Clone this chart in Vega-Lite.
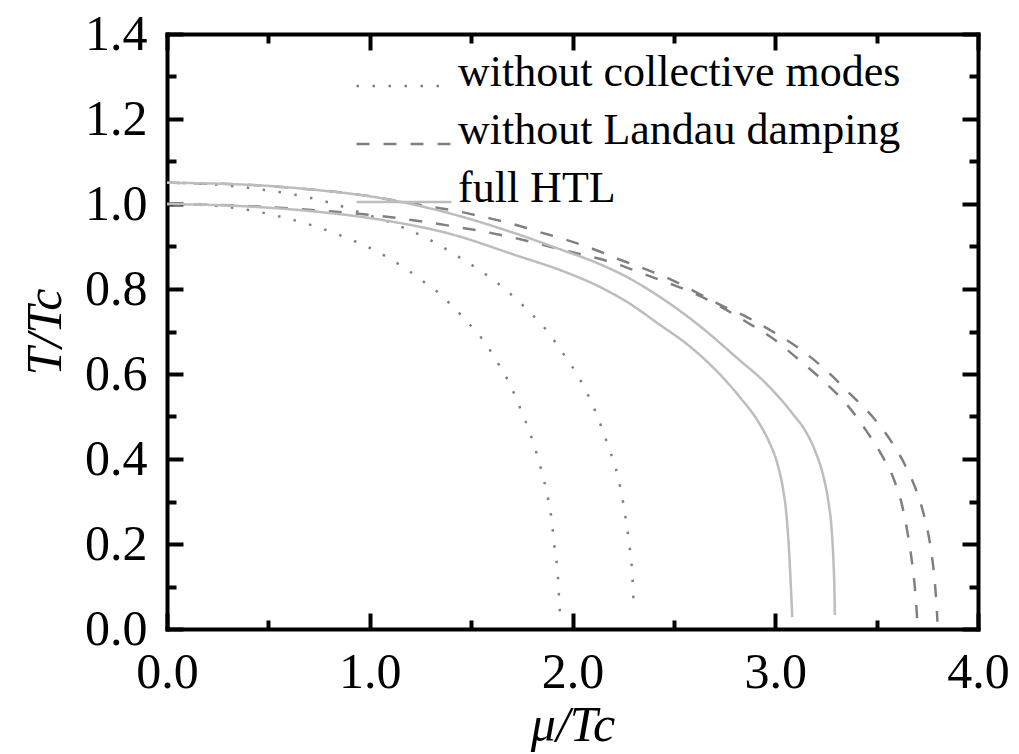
{
  "$schema": "https://vega.github.io/schema/vega-lite/v6.json",
  "width": 811,
  "height": 595,
  "autosize": {"type": "none"},
  "padding": {"left": 167, "top": 34, "right": 41, "bottom": 125},
  "background": "white",
  "config": {
    "view": {"stroke": null},
    "font": "Liberation Serif",
    "axis": {"grid": false, "domainColor": "black", "tickColor": "black", "labelColor": "black", "titleColor": "black", "domainWidth": 4, "domainCap": "square", "tickWidth": 4},
    "legend": {"rowPadding": 0, "clipHeight": 46}
  },
  "data": {
    "values": [
      {"c": "dotA", "s": "without collective modes", "i": 0, "x": 0, "y": 1.0},
      {"c": "dotA", "s": "without collective modes", "i": 1, "x": 0.2, "y": 0.997},
      {"c": "dotA", "s": "without collective modes", "i": 2, "x": 0.401, "y": 0.986},
      {"c": "dotA", "s": "without collective modes", "i": 3, "x": 0.56, "y": 0.97},
      {"c": "dotA", "s": "without collective modes", "i": 4, "x": 0.721, "y": 0.949},
      {"c": "dotA", "s": "without collective modes", "i": 5, "x": 0.877, "y": 0.922},
      {"c": "dotA", "s": "without collective modes", "i": 6, "x": 1.036, "y": 0.888},
      {"c": "dotA", "s": "without collective modes", "i": 7, "x": 1.192, "y": 0.843},
      {"c": "dotA", "s": "without collective modes", "i": 8, "x": 1.266, "y": 0.817},
      {"c": "dotA", "s": "without collective modes", "i": 9, "x": 1.332, "y": 0.794},
      {"c": "dotA", "s": "without collective modes", "i": 10, "x": 1.402, "y": 0.762},
      {"c": "dotA", "s": "without collective modes", "i": 11, "x": 1.456, "y": 0.736},
      {"c": "dotA", "s": "without collective modes", "i": 12, "x": 1.512, "y": 0.706},
      {"c": "dotA", "s": "without collective modes", "i": 13, "x": 1.562, "y": 0.678},
      {"c": "dotA", "s": "without collective modes", "i": 14, "x": 1.608, "y": 0.645},
      {"c": "dotA", "s": "without collective modes", "i": 15, "x": 1.649, "y": 0.612},
      {"c": "dotA", "s": "without collective modes", "i": 16, "x": 1.688, "y": 0.579},
      {"c": "dotA", "s": "without collective modes", "i": 17, "x": 1.739, "y": 0.523},
      {"c": "dotA", "s": "without collective modes", "i": 18, "x": 1.796, "y": 0.453},
      {"c": "dotA", "s": "without collective modes", "i": 19, "x": 1.837, "y": 0.39},
      {"c": "dotA", "s": "without collective modes", "i": 20, "x": 1.87, "y": 0.327},
      {"c": "dotA", "s": "without collective modes", "i": 21, "x": 1.895, "y": 0.264},
      {"c": "dotA", "s": "without collective modes", "i": 22, "x": 1.911, "y": 0.194},
      {"c": "dotA", "s": "without collective modes", "i": 23, "x": 1.928, "y": 0.123},
      {"c": "dotA", "s": "without collective modes", "i": 24, "x": 1.936, "y": 0.052},
      {"c": "dotA", "s": "without collective modes", "i": 25, "x": 1.938, "y": 0.035},

      {"c": "dotB", "s": "without collective modes", "i": 0, "x": 0, "y": 1.05},
      {"c": "dotB", "s": "without collective modes", "i": 1, "x": 0.2, "y": 1.047},
      {"c": "dotB", "s": "without collective modes", "i": 2, "x": 0.483, "y": 1.033},
      {"c": "dotB", "s": "without collective modes", "i": 3, "x": 0.639, "y": 1.021},
      {"c": "dotB", "s": "without collective modes", "i": 4, "x": 0.803, "y": 1.003},
      {"c": "dotB", "s": "without collective modes", "i": 5, "x": 0.96, "y": 0.979},
      {"c": "dotB", "s": "without collective modes", "i": 6, "x": 1.115, "y": 0.954},
      {"c": "dotB", "s": "without collective modes", "i": 7, "x": 1.271, "y": 0.922},
      {"c": "dotB", "s": "without collective modes", "i": 8, "x": 1.427, "y": 0.879},
      {"c": "dotB", "s": "without collective modes", "i": 9, "x": 1.591, "y": 0.828},
      {"c": "dotB", "s": "without collective modes", "i": 10, "x": 1.668, "y": 0.799},
      {"c": "dotB", "s": "without collective modes", "i": 11, "x": 1.739, "y": 0.769},
      {"c": "dotB", "s": "without collective modes", "i": 12, "x": 1.813, "y": 0.734},
      {"c": "dotB", "s": "without collective modes", "i": 13, "x": 1.882, "y": 0.697},
      {"c": "dotB", "s": "without collective modes", "i": 14, "x": 1.941, "y": 0.657},
      {"c": "dotB", "s": "without collective modes", "i": 15, "x": 1.994, "y": 0.621},
      {"c": "dotB", "s": "without collective modes", "i": 16, "x": 2.043, "y": 0.582},
      {"c": "dotB", "s": "without collective modes", "i": 17, "x": 2.117, "y": 0.507},
      {"c": "dotB", "s": "without collective modes", "i": 18, "x": 2.174, "y": 0.433},
      {"c": "dotB", "s": "without collective modes", "i": 19, "x": 2.224, "y": 0.358},
      {"c": "dotB", "s": "without collective modes", "i": 20, "x": 2.256, "y": 0.28},
      {"c": "dotB", "s": "without collective modes", "i": 21, "x": 2.277, "y": 0.209},
      {"c": "dotB", "s": "without collective modes", "i": 22, "x": 2.294, "y": 0.135},
      {"c": "dotB", "s": "without collective modes", "i": 23, "x": 2.302, "y": 0.06},
      {"c": "dotB", "s": "without collective modes", "i": 24, "x": 2.304, "y": 0.045},

      {"c": "dashA", "s": "without Landau damping", "i": 0, "x": 0, "y": 1.0},
      {"c": "dashA", "s": "without Landau damping", "i": 1, "x": 0.409, "y": 0.995},
      {"c": "dashA", "s": "without Landau damping", "i": 2, "x": 0.737, "y": 0.985},
      {"c": "dashA", "s": "without Landau damping", "i": 3, "x": 0.901, "y": 0.979},
      {"c": "dashA", "s": "without Landau damping", "i": 4, "x": 1.049, "y": 0.972},
      {"c": "dashA", "s": "without Landau damping", "i": 5, "x": 1.181, "y": 0.964},
      {"c": "dashA", "s": "without Landau damping", "i": 6, "x": 1.312, "y": 0.955},
      {"c": "dashA", "s": "without Landau damping", "i": 7, "x": 1.443, "y": 0.945},
      {"c": "dashA", "s": "without Landau damping", "i": 8, "x": 1.575, "y": 0.934},
      {"c": "dashA", "s": "without Landau damping", "i": 9, "x": 1.698, "y": 0.922},
      {"c": "dashA", "s": "without Landau damping", "i": 10, "x": 1.829, "y": 0.907},
      {"c": "dashA", "s": "without Landau damping", "i": 11, "x": 1.961, "y": 0.891},
      {"c": "dashA", "s": "without Landau damping", "i": 12, "x": 2.092, "y": 0.876},
      {"c": "dashA", "s": "without Landau damping", "i": 13, "x": 2.218, "y": 0.859},
      {"c": "dashA", "s": "without Landau damping", "i": 14, "x": 2.347, "y": 0.836},
      {"c": "dashA", "s": "without Landau damping", "i": 15, "x": 2.478, "y": 0.813},
      {"c": "dashA", "s": "without Landau damping", "i": 16, "x": 2.604, "y": 0.789},
      {"c": "dashA", "s": "without Landau damping", "i": 17, "x": 2.732, "y": 0.758},
      {"c": "dashA", "s": "without Landau damping", "i": 18, "x": 2.856, "y": 0.723},
      {"c": "dashA", "s": "without Landau damping", "i": 19, "x": 2.987, "y": 0.684},
      {"c": "dashA", "s": "without Landau damping", "i": 20, "x": 3.118, "y": 0.633},
      {"c": "dashA", "s": "without Landau damping", "i": 21, "x": 3.25, "y": 0.578},
      {"c": "dashA", "s": "without Landau damping", "i": 22, "x": 3.348, "y": 0.531},
      {"c": "dashA", "s": "without Landau damping", "i": 23, "x": 3.447, "y": 0.468},
      {"c": "dashA", "s": "without Landau damping", "i": 24, "x": 3.529, "y": 0.406},
      {"c": "dashA", "s": "without Landau damping", "i": 25, "x": 3.586, "y": 0.351},
      {"c": "dashA", "s": "without Landau damping", "i": 26, "x": 3.627, "y": 0.288},
      {"c": "dashA", "s": "without Landau damping", "i": 27, "x": 3.654, "y": 0.222},
      {"c": "dashA", "s": "without Landau damping", "i": 28, "x": 3.675, "y": 0.155},
      {"c": "dashA", "s": "without Landau damping", "i": 29, "x": 3.691, "y": 0.084},
      {"c": "dashA", "s": "without Landau damping", "i": 30, "x": 3.701, "y": 0.017},

      {"c": "dashB", "s": "without Landau damping", "i": 0, "x": 0, "y": 1.05},
      {"c": "dashB", "s": "without Landau damping", "i": 1, "x": 0.409, "y": 1.045},
      {"c": "dashB", "s": "without Landau damping", "i": 2, "x": 0.737, "y": 1.033},
      {"c": "dashB", "s": "without Landau damping", "i": 3, "x": 0.901, "y": 1.025},
      {"c": "dashB", "s": "without Landau damping", "i": 4, "x": 1.066, "y": 1.013},
      {"c": "dashB", "s": "without Landau damping", "i": 5, "x": 1.296, "y": 0.994},
      {"c": "dashB", "s": "without Landau damping", "i": 6, "x": 1.443, "y": 0.982},
      {"c": "dashB", "s": "without Landau damping", "i": 7, "x": 1.575, "y": 0.968},
      {"c": "dashB", "s": "without Landau damping", "i": 8, "x": 1.698, "y": 0.954},
      {"c": "dashB", "s": "without Landau damping", "i": 9, "x": 1.829, "y": 0.935},
      {"c": "dashB", "s": "without Landau damping", "i": 10, "x": 1.961, "y": 0.917},
      {"c": "dashB", "s": "without Landau damping", "i": 11, "x": 2.092, "y": 0.896},
      {"c": "dashB", "s": "without Landau damping", "i": 12, "x": 2.218, "y": 0.872},
      {"c": "dashB", "s": "without Landau damping", "i": 13, "x": 2.347, "y": 0.849},
      {"c": "dashB", "s": "without Landau damping", "i": 14, "x": 2.478, "y": 0.824},
      {"c": "dashB", "s": "without Landau damping", "i": 15, "x": 2.604, "y": 0.794},
      {"c": "dashB", "s": "without Landau damping", "i": 16, "x": 2.732, "y": 0.762},
      {"c": "dashB", "s": "without Landau damping", "i": 17, "x": 2.856, "y": 0.735},
      {"c": "dashB", "s": "without Landau damping", "i": 18, "x": 2.987, "y": 0.7},
      {"c": "dashB", "s": "without Landau damping", "i": 19, "x": 3.118, "y": 0.66},
      {"c": "dashB", "s": "without Landau damping", "i": 20, "x": 3.25, "y": 0.609},
      {"c": "dashB", "s": "without Landau damping", "i": 21, "x": 3.365, "y": 0.555},
      {"c": "dashB", "s": "without Landau damping", "i": 22, "x": 3.479, "y": 0.5},
      {"c": "dashB", "s": "without Landau damping", "i": 23, "x": 3.578, "y": 0.437},
      {"c": "dashB", "s": "without Landau damping", "i": 24, "x": 3.644, "y": 0.382},
      {"c": "dashB", "s": "without Landau damping", "i": 25, "x": 3.7, "y": 0.32},
      {"c": "dashB", "s": "without Landau damping", "i": 26, "x": 3.74, "y": 0.255},
      {"c": "dashB", "s": "without Landau damping", "i": 27, "x": 3.767, "y": 0.19},
      {"c": "dashB", "s": "without Landau damping", "i": 28, "x": 3.785, "y": 0.12},
      {"c": "dashB", "s": "without Landau damping", "i": 29, "x": 3.795, "y": 0.06},
      {"c": "dashB", "s": "without Landau damping", "i": 30, "x": 3.8, "y": 0.017},

      {"c": "solA", "s": "full HTL", "i": 0, "x": 0, "y": 1.0},
      {"c": "solA", "s": "full HTL", "i": 1, "x": 0.409, "y": 0.994},
      {"c": "solA", "s": "full HTL", "i": 2, "x": 0.737, "y": 0.982},
      {"c": "solA", "s": "full HTL", "i": 3, "x": 1.066, "y": 0.962},
      {"c": "solA", "s": "full HTL", "i": 4, "x": 1.394, "y": 0.93},
      {"c": "solA", "s": "full HTL", "i": 5, "x": 1.723, "y": 0.879},
      {"c": "solA", "s": "full HTL", "i": 6, "x": 1.953, "y": 0.842},
      {"c": "solA", "s": "full HTL", "i": 7, "x": 2.117, "y": 0.809},
      {"c": "solA", "s": "full HTL", "i": 8, "x": 2.281, "y": 0.766},
      {"c": "solA", "s": "full HTL", "i": 9, "x": 2.43, "y": 0.716},
      {"c": "solA", "s": "full HTL", "i": 10, "x": 2.56, "y": 0.672},
      {"c": "solA", "s": "full HTL", "i": 11, "x": 2.69, "y": 0.617},
      {"c": "solA", "s": "full HTL", "i": 12, "x": 2.823, "y": 0.547},
      {"c": "solA", "s": "full HTL", "i": 13, "x": 2.921, "y": 0.484},
      {"c": "solA", "s": "full HTL", "i": 14, "x": 2.97, "y": 0.44},
      {"c": "solA", "s": "full HTL", "i": 15, "x": 3.01, "y": 0.39},
      {"c": "solA", "s": "full HTL", "i": 16, "x": 3.038, "y": 0.33},
      {"c": "solA", "s": "full HTL", "i": 17, "x": 3.055, "y": 0.27},
      {"c": "solA", "s": "full HTL", "i": 18, "x": 3.066, "y": 0.2},
      {"c": "solA", "s": "full HTL", "i": 19, "x": 3.074, "y": 0.13},
      {"c": "solA", "s": "full HTL", "i": 20, "x": 3.08, "y": 0.07},
      {"c": "solA", "s": "full HTL", "i": 21, "x": 3.084, "y": 0.028},

      {"c": "solB", "s": "full HTL", "i": 0, "x": 0, "y": 1.05},
      {"c": "solB", "s": "full HTL", "i": 1, "x": 0.409, "y": 1.045},
      {"c": "solB", "s": "full HTL", "i": 2, "x": 0.737, "y": 1.033},
      {"c": "solB", "s": "full HTL", "i": 3, "x": 1.066, "y": 1.013},
      {"c": "solB", "s": "full HTL", "i": 4, "x": 1.394, "y": 0.978},
      {"c": "solB", "s": "full HTL", "i": 5, "x": 1.723, "y": 0.93},
      {"c": "solB", "s": "full HTL", "i": 6, "x": 1.953, "y": 0.891},
      {"c": "solB", "s": "full HTL", "i": 7, "x": 2.117, "y": 0.862},
      {"c": "solB", "s": "full HTL", "i": 8, "x": 2.281, "y": 0.825},
      {"c": "solB", "s": "full HTL", "i": 9, "x": 2.429, "y": 0.782},
      {"c": "solB", "s": "full HTL", "i": 10, "x": 2.609, "y": 0.72},
      {"c": "solB", "s": "full HTL", "i": 11, "x": 2.823, "y": 0.633},
      {"c": "solB", "s": "full HTL", "i": 12, "x": 2.954, "y": 0.578},
      {"c": "solB", "s": "full HTL", "i": 13, "x": 3.085, "y": 0.507},
      {"c": "solB", "s": "full HTL", "i": 14, "x": 3.15, "y": 0.465},
      {"c": "solB", "s": "full HTL", "i": 15, "x": 3.2, "y": 0.415},
      {"c": "solB", "s": "full HTL", "i": 16, "x": 3.237, "y": 0.36},
      {"c": "solB", "s": "full HTL", "i": 17, "x": 3.262, "y": 0.3},
      {"c": "solB", "s": "full HTL", "i": 18, "x": 3.278, "y": 0.235},
      {"c": "solB", "s": "full HTL", "i": 19, "x": 3.287, "y": 0.16},
      {"c": "solB", "s": "full HTL", "i": 20, "x": 3.292, "y": 0.09},
      {"c": "solB", "s": "full HTL", "i": 21, "x": 3.294, "y": 0.033}
    ]
  },
  "resolve": {"axis": {"x": "independent", "y": "independent"}},
  "layer": [
    {
      "mark": {"type": "line", "strokeWidth": 2.5, "strokeCap": "butt", "interpolate": "monotone", "clip": true},
      "encoding": {
        "x": {"field": "x", "type": "quantitative", "scale": {"domain": [0, 4], "nice": false, "zero": false},
          "axis": {"orient": "bottom", "values": [0, 0.5, 1, 1.5, 2, 2.5, 3, 3.5, 4], "labels": false, "title": null,
            "tickSize": {"condition": {"test": "round(datum.value*2) % 2 == 0", "value": -16}, "value": -9}}},
        "y": {"field": "y", "type": "quantitative", "scale": {"domain": [0, 1.4], "nice": false, "zero": false},
          "axis": {"orient": "left", "values": [0, 0.1, 0.2, 0.3, 0.4, 0.5, 0.6, 0.7, 0.8, 0.9, 1.0, 1.1, 1.2, 1.3, 1.4], "labels": false, "title": null,
            "tickSize": {"condition": {"test": "round(datum.value*10) % 2 == 0", "value": -16}, "value": -9}}},
        "detail": {"field": "c"},
        "order": {"field": "i", "type": "quantitative"},
        "color": {"field": "s", "type": "nominal",
          "scale": {"domain": ["without collective modes", "without Landau damping", "full HTL"], "range": ["#808080", "#808080", "#bdbdbd"]},
          "legend": {"orient": "none", "legendX": 188, "legendY": 29, "title": null, "padding": 0,
            "labelFont": "Liberation Serif", "labelFontSize": 44, "labelColor": "black", "labelLimit": 0, "labelOffset": 5, "labelBaseline": "alphabetic",
            "symbolType": "stroke", "symbolSize": 9025, "symbolStrokeWidth": 2.5}},
        "strokeDash": {"field": "s", "type": "nominal",
          "scale": {"domain": ["without collective modes", "without Landau damping", "full HTL"], "range": [[2.5, 13.5], [13, 14], [1, 0]]},
          "legend": {"orient": "none", "legendX": 188, "legendY": 29, "title": null, "padding": 0,
            "labelFont": "Liberation Serif", "labelFontSize": 44, "labelColor": "black", "labelLimit": 0, "labelOffset": 5, "labelBaseline": "alphabetic",
            "symbolType": "stroke", "symbolSize": 9025, "symbolStrokeWidth": 2.5}}
      }
    },
    {
      "mark": {"type": "line", "opacity": 0},
      "encoding": {
        "x": {"field": "x", "type": "quantitative",
          "axis": {"orient": "top", "values": [0, 0.5, 1, 1.5, 2, 2.5, 3, 3.5, 4], "labels": false, "title": null,
            "tickSize": {"condition": {"test": "round(datum.value*2) % 2 == 0", "value": -16}, "value": -9}}},
        "y": {"field": "y", "type": "quantitative",
          "axis": {"orient": "right", "values": [0, 0.1, 0.2, 0.3, 0.4, 0.5, 0.6, 0.7, 0.8, 0.9, 1.0, 1.1, 1.2, 1.3, 1.4], "labels": false, "title": null,
            "tickSize": {"condition": {"test": "round(datum.value*10) % 2 == 0", "value": -16}, "value": -9}}},
        "detail": {"field": "c"}
      }
    },
    {
      "mark": {"type": "line", "opacity": 0},
      "encoding": {
        "x": {"field": "x", "type": "quantitative",
          "axis": {"orient": "bottom", "values": [0, 1, 2, 3, 4], "format": ".1f", "ticks": false, "domain": false,
            "labelFontSize": 50, "labelPadding": 18, "labelFlush": false,
            "title": "μ/Tc", "titleFontSize": 50, "titleFontStyle": "italic", "titleFontWeight": "normal", "titlePadding": 3}},
        "y": {"field": "y", "type": "quantitative",
          "axis": {"orient": "left", "values": [0, 0.2, 0.4, 0.6, 0.8, 1.0, 1.2, 1.4], "format": ".1f", "ticks": false, "domain": false,
            "labelFontSize": 50, "labelPadding": 20, "labelFlush": false,
            "title": "T/Tc", "titleFontSize": 50, "titleFontStyle": "italic", "titleFontWeight": "normal", "titlePadding": 14}},
        "detail": {"field": "c"}
      }
    }
  ]
}
